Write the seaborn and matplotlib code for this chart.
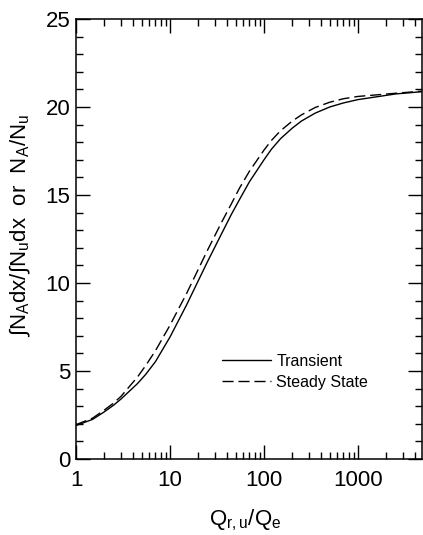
import numpy as np
import pandas as pd
import matplotlib
matplotlib.use("Agg")
import matplotlib.pyplot as plt
from matplotlib.ticker import FixedLocator, FixedFormatter, MultipleLocator, LogLocator, NullFormatter
import seaborn as sns

# ---- data ----
q_ratio = [1, 1.5, 2, 2.5, 3, 4.5, 5.5, 7, 10, 15, 25, 35, 45, 55, 70, 100, 120, 150, 200, 250,
           350, 500, 700, 1000, 2500, 4800]
transient = [1.9, 2.25, 2.68, 3.05, 3.4, 4.28, 4.8, 5.53, 6.93, 8.75, 11.2, 12.75, 13.9, 14.75,
             15.75, 17.0, 17.6, 18.2, 18.8, 19.2, 19.65, 20.0, 20.23, 20.42, 20.74, 20.87]
steady = [1.95, 2.32, 2.78, 3.17, 3.55, 4.65, 5.3, 6.15, 7.6, 9.4, 11.85, 13.4, 14.5, 15.4,
          16.35, 17.55, 18.1, 18.65, 19.2, 19.55, 19.97, 20.27, 20.47, 20.6, 20.78, 20.9]
series_names = ["Transient", "Steady State"]
xtick_values = [1, 10, 100, 1000]
xtick_labels = ["1", "10", "100", "1000"]
ytick_values = [0, 5, 10, 15, 20, 25]
ytick_labels = ["0", "5", "10", "15", "20", "25"]

df = pd.DataFrame({
    "x": q_ratio * 2,
    "y": transient + steady,
    "series": [series_names[0]] * len(q_ratio) + [series_names[1]] * len(q_ratio),
})

sns.set_style("ticks", rc={"text.color": "black", "axes.labelcolor": "black",
                           "xtick.color": "black", "ytick.color": "black",
                           "axes.edgecolor": "black"})
plt.rcParams["font.family"] = ["Liberation Sans", "DejaVu Sans"]
plt.rcParams["mathtext.fontset"] = "custom"
plt.rcParams["mathtext.rm"] = "Liberation Sans"
plt.rcParams["mathtext.it"] = "Liberation Sans"
plt.rcParams["mathtext.bf"] = "Liberation Sans"

fig = plt.figure(figsize=(4.23, 5.35), dpi=100)
ax = fig.add_axes([76 / 423, 1 - 459 / 535, 346 / 423, 440 / 535])

sns.lineplot(data=df, x="x", y="y", hue="series", style="series",
             palette={series_names[0]: "black", series_names[1]: "black"},
             dashes={series_names[0]: "", series_names[1]: (8, 3.5)},
             linewidth=1.0, ax=ax, sort=False, estimator=None)

ax.set_xscale("log")
ax.set_xlim(1, 4800)
ax.set_ylim(0, 25)

ax.xaxis.set_major_locator(FixedLocator(xtick_values))
ax.xaxis.set_major_formatter(FixedFormatter(xtick_labels))
ax.xaxis.set_minor_locator(LogLocator(base=10, subs=np.arange(2, 10)))
ax.xaxis.set_minor_formatter(NullFormatter())
ax.yaxis.set_major_locator(FixedLocator(ytick_values))
ax.yaxis.set_major_formatter(FixedFormatter(ytick_labels))
ax.yaxis.set_minor_locator(MultipleLocator(1))

ax.tick_params(which="both", direction="in", top=True, right=True, width=1.0, color="black")
ax.tick_params(which="major", length=10, labelsize=16, labelcolor="black")
ax.tick_params(which="minor", length=5)
ax.tick_params(axis="x", which="major", pad=8)
ax.tick_params(axis="y", which="major", pad=4)
for sp in ax.spines.values():
    sp.set_linewidth(1.1)
    sp.set_color("black")
    sp.set_visible(True)

ax.set_xlabel(r"Q$\mathregular{_{r,u}}$/Q$\mathregular{_e}$", fontsize=16, color="black")
ax.set_ylabel(r"∫N$\mathregular{_A}$dx/∫N$\mathregular{_u}$dx  or  N$\mathregular{_A}$/N$\mathregular{_u}$",
              fontsize=16, color="black")
ax.xaxis.set_label_coords(0.49, -0.11)
ax.yaxis.set_label_coords(-0.125, 0.53)

leg = ax.legend(loc="lower left", bbox_to_anchor=(0.38, 0.125), frameon=False,
                fontsize=11.5, handlelength=3.1, handletextpad=0.3, labelspacing=0.35)
for line in leg.get_lines():
    line.set_linewidth(1.0)
for t in leg.get_texts():
    t.set_color("black")

fig.savefig("out.png", dpi=100)
